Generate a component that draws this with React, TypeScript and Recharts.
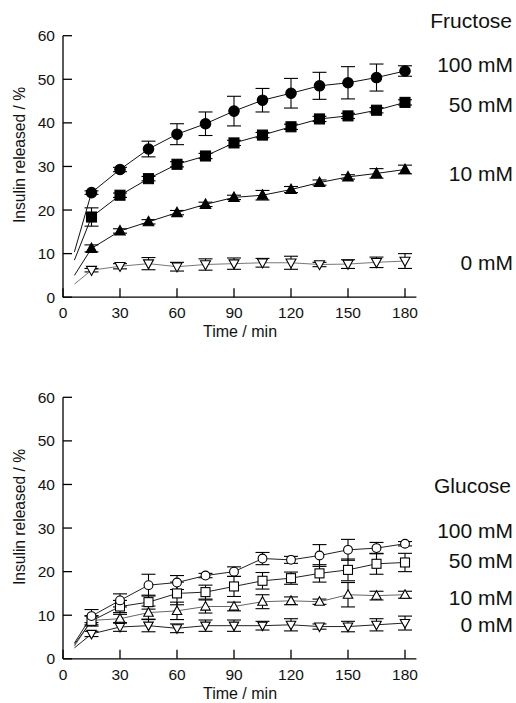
import { ComposedChart, ErrorBar, Line, XAxis, YAxis } from "recharts";

// Insulin release over time, fructose (top) vs glucose (bottom), mean ± error.
const FONT = '"Liberation Sans", Arial, Helvetica, sans-serif';

const times = [6, 15, 30, 45, 60, 75, 90, 105, 120, 135, 150, 165, 180];
const xTicks = [0, 30, 60, 90, 120, 150, 180];
const yTicks = [0, 10, 20, 30, 40, 50, 60];
const concLabels = ["100 mM", "50 mM", "10 mM", "0 mM"];

// fructose
const fru100 = [10.4, 24.0, 29.3, 34.0, 37.4, 39.8, 42.7, 45.2, 46.8, 48.5, 49.2, 50.4, 51.9];
const fru100Err = [null, 0.4, 0.5, 1.8, 2.4, 2.7, 3.4, 2.7, 3.4, 3.1, 3.7, 3.1, 1.2];
const fru50 = [8.5, 18.4, 23.4, 27.2, 30.5, 32.4, 35.4, 37.2, 39.1, 40.9, 41.6, 42.9, 44.7];
const fru50Err = [null, 2.1, 0.5, 0.5, 0.6, 0.6, 0.6, 0.6, 0.6, 0.6, 0.6, 0.6, 0.6];
const fru10 = [5.0, 11.2, 15.2, 17.3, 19.4, 21.3, 22.9, 23.4, 24.7, 26.3, 27.6, 28.4, 29.3];
const fru10Err = [null, 0.8, 0.5, 0.5, 0.5, 0.5, 0.5, 1.1, 0.7, 0.6, 0.5, 1.1, 1.0];
const fru0 = [3.0, 6.2, 7.1, 7.7, 7.0, 7.5, 7.7, 7.9, 7.9, 7.5, 7.6, 8.0, 8.3];
const fru0Err = [null, 0.4, 0.6, 1.4, 1.0, 1.3, 1.3, 1.0, 1.5, 0.5, 1.0, 1.2, 1.7];

// glucose
const glu100 = [3.6, 9.8, 13.4, 16.9, 17.5, 19.1, 20.0, 23.0, 22.7, 23.7, 25.0, 25.4, 26.4];
const glu100Err = [null, 1.5, 1.5, 2.5, 1.6, 0.5, 1.1, 1.4, 0.8, 2.5, 2.4, 1.3, 0.5];
const glu50 = [3.3, 8.7, 12.0, 13.0, 15.0, 15.3, 16.6, 17.9, 18.5, 19.6, 20.4, 21.8, 22.1];
const glu50Err = [null, 1.2, 1.4, 1.6, 2.6, 1.6, 2.3, 1.9, 1.4, 2.0, 2.5, 2.4, 2.1];
const glu10 = [2.9, 8.8, 9.2, 10.6, 11.0, 12.0, 12.0, 13.1, 13.3, 13.1, 14.7, 14.5, 14.7];
const glu10Err = [null, 1.0, 1.0, 1.5, 2.0, 1.5, 1.0, 1.6, 0.9, 0.6, 2.8, 1.0, 0.8];
const glu0 = [2.5, 5.7, 7.3, 7.6, 7.0, 7.6, 7.6, 7.6, 7.8, 7.4, 7.4, 7.8, 8.2];
const glu0Err = [null, 0.6, 1.0, 1.4, 1.0, 1.3, 1.3, 1.0, 1.4, 0.6, 1.2, 1.4, 1.6];

type Num = number | null;
function table(s: Num[][], e: Num[][]) {
  return times.map((t, i) => ({
    t,
    a: s[0][i], aE: e[0][i],
    b: s[1][i], bE: e[1][i],
    c: s[2][i], cE: e[2][i],
    d: s[3][i], dE: e[3][i],
  }));
}
const fruData = table([fru100, fru50, fru10, fru0], [fru100Err, fru50Err, fru10Err, fru0Err]);
const gluData = table([glu100, glu50, glu10, glu0], [glu100Err, glu50Err, glu10Err, glu0Err]);

// markers — the t=6 extrapolation point gets none
type Shape = "circle" | "square" | "up" | "down";
function marker(shape: Shape, filled: boolean, s: number) {
  return (p: any) => {
    const { cx, cy, payload, index } = p;
    const k = `m-${index}`;
    if (payload.t < 10 || cx == null || cy == null) return <g key={k} />;
    const fill = filled ? "#000" : "#fff";
    const common = { fill, stroke: "#000", strokeWidth: 1.1 };
    if (shape === "circle") return <circle key={k} cx={cx} cy={cy} r={s / 2} {...common} />;
    if (shape === "square")
      return <rect key={k} x={cx - s / 2} y={cy - s / 2} width={s} height={s} {...common} />;
    const h = s * 0.9;
    const pts =
      shape === "up"
        ? `${cx},${cy - h * 0.58} ${cx + s / 2},${cy + h * 0.42} ${cx - s / 2},${cy + h * 0.42}`
        : `${cx},${cy + h * 0.58} ${cx + s / 2},${cy - h * 0.42} ${cx - s / 2},${cy - h * 0.42}`;
    return <polygon key={k} points={pts} {...common} />;
  };
}

const XTick = (p: any) => (
  <g>
    <line x1={p.x} x2={p.x} y1={p.y} y2={p.y - 9} stroke="#000" strokeWidth={1.3} />
    <text x={p.x} y={p.y + 21} textAnchor="middle" fontSize={15.5} fontFamily={FONT} fill="#111">
      {p.payload.value}
    </text>
  </g>
);

const YTick = (p: any) => (
  <g>
    <line x1={p.x} x2={p.x + 9} y1={p.y} y2={p.y} stroke="#000" strokeWidth={1.3} />
    <text x={p.x - 8} y={p.y} dy="0.36em" textAnchor="end" fontSize={15.5} fontFamily={FONT} fill="#111">
      {p.payload.value}
    </text>
  </g>
);

interface SeriesDef {
  key: string;
  shape: Shape;
  filled: boolean;
  size: number;
  stroke: string;
}

function Panel({ data, series, top, height }: { data: any[]; series: SeriesDef[]; top: number; height: number }) {
  return (
    <ComposedChart
      width={516}
      height={height}
      data={data}
      margin={{ top, right: 99.6, bottom: height - top - 261.5 - 30, left: 3 }}
    >
      <XAxis
        dataKey="t"
        type="number"
        domain={[0, 186]}
        ticks={xTicks}
        height={30}
        tickSize={0}
        tickMargin={0}
        tickLine={false}
        axisLine={{ stroke: "#000", strokeWidth: 1.3 }}
        tick={XTick}
        interval={0}
      />
      <YAxis
        type="number"
        domain={[0, 60]}
        ticks={yTicks}
        width={60}
        tickSize={0}
        tickMargin={0}
        tickLine={false}
        axisLine={{ stroke: "#000", strokeWidth: 1.3 }}
        tick={YTick}
        interval={0}
      />
      {series.map((s) => (
        <Line
          key={s.key}
          dataKey={s.key}
          type="linear"
          stroke={s.stroke}
          strokeWidth={1}
          dot={marker(s.shape, s.filled, s.size)}
          activeDot={false}
          isAnimationActive={false}
        >
          <ErrorBar dataKey={`${s.key}E`} direction="y" width={7} stroke="#000" strokeWidth={1.1} isAnimationActive={false} />
        </Line>
      ))}
    </ComposedChart>
  );
}

const fruSeries: SeriesDef[] = [
  { key: "d", shape: "down", filled: false, size: 10, stroke: "#777" },
  { key: "c", shape: "up", filled: true, size: 10.5, stroke: "#111" },
  { key: "b", shape: "square", filled: true, size: 10, stroke: "#111" },
  { key: "a", shape: "circle", filled: true, size: 10.5, stroke: "#111" },
];
const gluSeries: SeriesDef[] = [
  { key: "d", shape: "down", filled: false, size: 9.5, stroke: "#222" },
  { key: "c", shape: "up", filled: false, size: 9.5, stroke: "#666" },
  { key: "b", shape: "square", filled: false, size: 9, stroke: "#222" },
  { key: "a", shape: "circle", filled: false, size: 8.8, stroke: "#222" },
];

const fruLabelY = [72, 112, 181, 270];
const gluLabelY = [538, 568, 605, 632];

export default function App() {
  const txt = { fontFamily: FONT, fill: "#111" };
  return (
    <div style={{ position: "absolute", left: 0, top: 0, width: 516, height: 703, background: "#fff" }}>
      <div style={{ position: "absolute", left: 0, top: 0 }}>
        <Panel data={fruData} series={fruSeries} top={35.7} height={350} />
      </div>
      <div style={{ position: "absolute", left: 0, top: 350 }}>
        <Panel data={gluData} series={gluSeries} top={47.3} height={353} />
      </div>
      <svg width={516} height={703} style={{ position: "absolute", left: 0, top: 0, pointerEvents: "none" }}>
        <text x={512} y={28} textAnchor="end" fontSize={21} {...txt}>Fructose</text>
        {concLabels.map((l, i) => (
          <text key={`f${l}`} x={513} y={fruLabelY[i]} textAnchor="end" fontSize={21} {...txt}>{l}</text>
        ))}
        <text x={511} y={493} textAnchor="end" fontSize={21} {...txt}>Glucose</text>
        {concLabels.map((l, i) => (
          <text key={`g${l}`} x={513} y={gluLabelY[i]} textAnchor="end" fontSize={21} {...txt}>{l}</text>
        ))}
        <text x={240} y={337} textAnchor="middle" fontSize={16} {...txt}>Time / min</text>
        <text x={240} y={699} textAnchor="middle" fontSize={16} {...txt}>Time / min</text>
        <text x={25} y={155} transform="rotate(-90 25 155)" textAnchor="middle" fontSize={15.6} {...txt}>
          Insulin released / %
        </text>
        <text x={25} y={517} transform="rotate(-90 25 517)" textAnchor="middle" fontSize={15.6} {...txt}>
          Insulin released / %
        </text>
      </svg>
    </div>
  );
}
